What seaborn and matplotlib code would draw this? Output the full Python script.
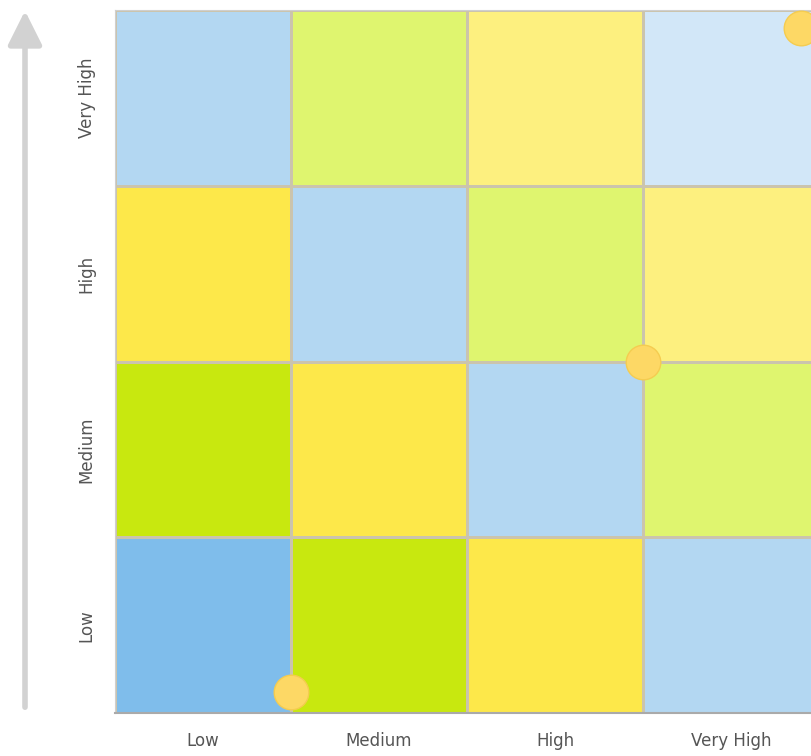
import matplotlib
matplotlib.use("Agg")
import matplotlib.pyplot as plt
from matplotlib.colors import ListedColormap
import seaborn as sb
import pandas as pd

levels = ["Low", "Medium", "High", "Very High"]

# colour index of every cell, rows from Low (bottom) to Very High (top)
cell_low = [0, 3, 5, 1]
cell_medium = [3, 5, 1, 4]
cell_high = [5, 1, 4, 6]
cell_very_high = [1, 4, 6, 2]

cell_colors = ["#7fbdeb", "#b3d7f2", "#d2e7f8", "#c8e80f",
               "#dff56f", "#fde84a", "#fdf07f"]

# risk points (x, y in grid units from bottom-left)
risk_x = [1.0, 3.0, 3.9]
risk_y = [0.12, 2.0, 3.9]

grid = pd.DataFrame([cell_low, cell_medium, cell_high, cell_very_high],
                    index=levels, columns=levels)

sb.set_style("white")
fig = plt.figure(figsize=(8.12, 7.56), dpi=100)
ax = fig.add_axes([115 / 812, 43 / 756, 704 / 812, 703 / 756])

sb.heatmap(grid, ax=ax, cmap=ListedColormap(cell_colors), vmin=-0.5,
           vmax=len(cell_colors) - 0.5, cbar=False, linewidths=0.8,
           linecolor="#cbc4ad", square=False)
ax.invert_yaxis()

ax.scatter(risk_x, risk_y, s=620, color="#fdd865", edgecolor="#f5cc50",
           linewidth=1, zorder=5, clip_on=False)

ax.set_xticklabels(levels, fontsize=12, color="#555555")
ax.set_yticklabels(levels, fontsize=12, color="#555555", rotation=90,
                   va="center")
ax.tick_params(axis="x", length=0, pad=14)
ax.tick_params(axis="y", length=0, pad=14)
ax.set_xlabel("")
ax.set_ylabel("")
for side, sp in ax.spines.items():
    sp.set_visible(True)
    sp.set_color("#cfcfcf")
    sp.set_linewidth(0.8)
ax.spines["bottom"].set_color("#aaaaaa")
ax.spines["bottom"].set_linewidth(1.5)

ax.annotate("", xy=(25, 748), xytext=(25, 46), xycoords="figure pixels",
            textcoords="figure pixels",
            arrowprops=dict(arrowstyle="-|>,head_width=0.4,head_length=0.8",
                            lw=4, color="#d2d2d2", mutation_scale=26))

fig.savefig("out.png", dpi=100)
